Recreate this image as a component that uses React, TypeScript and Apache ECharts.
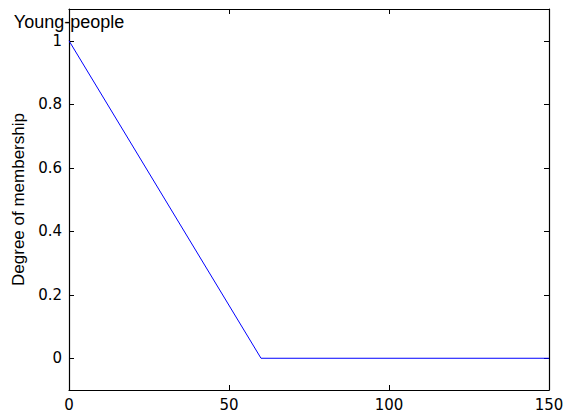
import React, { useEffect, useRef } from "react";
import * as echarts from "echarts";

const xValues = [0, 60, 150];
const membership = [1, 0, 0];
const yTickValues = [0, 0.2, 0.4, 0.6, 0.8, 1];
const xTickValues = [0, 50, 100, 150];
const setName = "Young-people";
const yAxisTitle = "Degree of membership";

export default function App() {
  const ref = useRef<HTMLDivElement>(null);
  useEffect(() => {
    document.body.style.margin = "0";
    document.documentElement.style.overflow = "hidden";
    if (!ref.current) return;
    const chart = echarts.init(ref.current, undefined, { renderer: "svg" });
    const tickFont = { fontFamily: "DejaVu Sans", fontSize: 15, lineHeight: 14, color: "#000" };
    const axisLine = { show: true, onZero: false, lineStyle: { color: "#000", width: 1.2 } };
    const tick = { show: true, inside: true, length: 5, lineStyle: { color: "#000", width: 1 } };
    chart.setOption({
      animation: false,
      backgroundColor: "#fff",
      grid: {
        left: 69,
        right: 14,
        top: 9,
        bottom: 26,
        containLabel: false,
        outerBoundsMode: "none",
      },
      xAxis: [
        {
          type: "value",
          position: "bottom",
          min: 0,
          max: 150,
          interval: 50,
          axisLine,
          axisTick: { ...tick, customValues: xTickValues },
          axisLabel: { ...tickFont, margin: 8, customValues: xTickValues },
          splitLine: { show: false },
        },
        {
          type: "value",
          position: "top",
          min: 0,
          max: 150,
          interval: 50,
          axisLine,
          axisTick: { ...tick, customValues: xTickValues },
          axisLabel: { show: false },
          splitLine: { show: false },
        },
      ],
      yAxis: [
        {
          type: "value",
          position: "left",
          min: -0.1,
          max: 1.1,
          axisLine,
          axisTick: { ...tick, customValues: yTickValues },
          axisLabel: { ...tickFont, margin: 7, customValues: yTickValues },
          splitLine: { show: false },
          name: yAxisTitle,
          nameLocation: "middle",
          nameGap: 41,
          nameTextStyle: { fontFamily: "Liberation Sans", fontSize: 17, color: "#000" },
        },
        {
          type: "value",
          position: "right",
          min: -0.1,
          max: 1.1,
          axisLine,
          axisTick: { ...tick, customValues: yTickValues },
          axisLabel: { show: false },
          splitLine: { show: false },
        },
      ],
      series: [
        {
          type: "line",
          data: xValues.map((x, i) => [x, membership[i]]),
          showSymbol: false,
          symbol: "none",
          lineStyle: { color: "#0000ff", width: 1 },
          silent: true,
        },
        {
          type: "scatter",
          data: [[xValues[0], membership[0]]],
          symbolSize: 0,
          silent: true,
          itemStyle: { opacity: 1 },
          label: {
            show: true,
            position: "top",
            distance: 10,
            formatter: setName,
            fontFamily: "Liberation Sans",
            fontSize: 18,
            lineHeight: 18,
            color: "#000",
            opacity: 1,
          },
        },
      ],
    });
    return () => chart.dispose();
  }, []);
  return <div ref={ref} style={{ width: 563, height: 416 }} />;
}
